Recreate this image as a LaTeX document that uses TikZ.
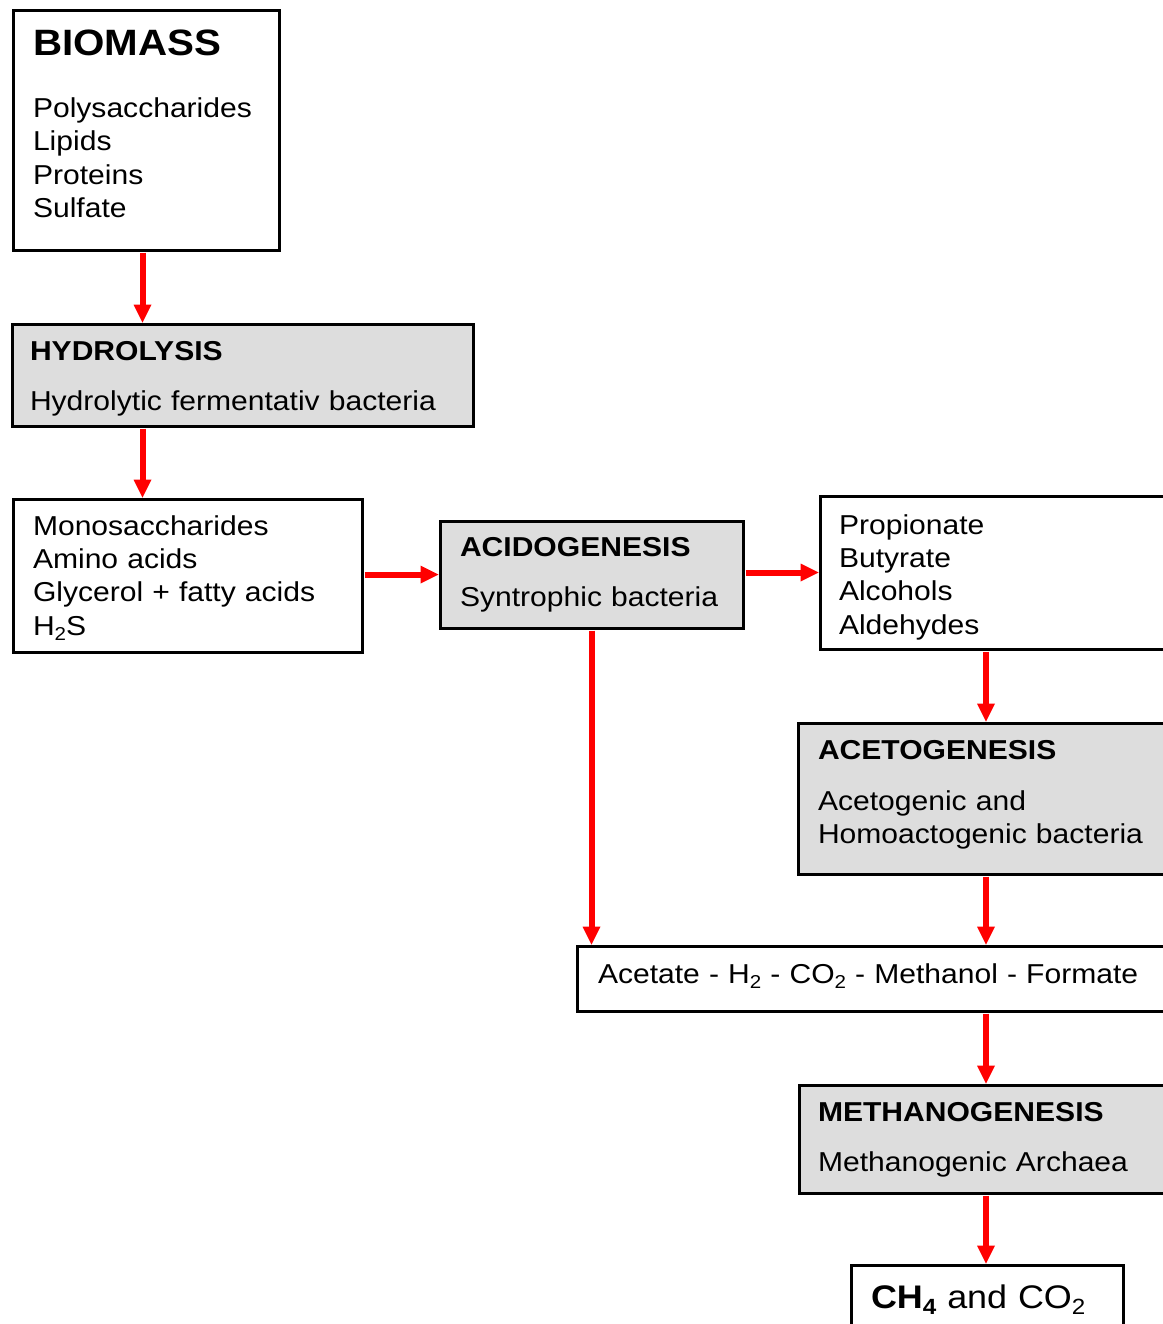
\documentclass[tikz,border=0pt]{standalone}
\usepackage{fontspec}
\setmainfont{Liberation Sans}[FakeStretch=1.1]
\usetikzlibrary{arrows.meta}
\definecolor{boxgray}{RGB}{221,221,221}
\newcommand\regf{\fontsize{20.5}{25}\selectfont}
\newcommand\subs[2][14]{\raisebox{-0.2em}{\fontsize{#1}{#1}\selectfont #2}}
\newcommand\tstr[1]{\rule{0pt}{#1}}
\newcommand\bstr[1]{\rule[-#1]{0pt}{#1}}
\begin{document}
\begin{tikzpicture}[x=0.75pt,y=-0.75pt,
  box/.style={draw=black, line width=2.25pt, anchor=north west, inner ysep=0pt, outer sep=0pt, align=left, font=\regf},
  graybox/.style={box, fill=boxgray},
  arr/.style={draw=red, line width=4.5pt, -{Triangle[length=13.5pt,width=13.5pt,line width=0pt]}, shorten >=1.1pt, shorten <=2pt}]
\useasboundingbox (0,0) rectangle (1163,1324);
\clip (0,0) rectangle (1163,1324);

\node[box, inner xsep=15pt, text width=169.5pt] (bio) at (13,10)
  {\tstr{33.75pt}{\fontsize{27.5}{30}\selectfont\bfseries BIOMASS}\\[21.75pt]Polysaccharides\\Lipids\\Proteins\\Sulfate\bstr{24.5pt}};
\node[graybox, inner xsep=13.5pt, text width=318.75pt] (hyd) at (12,324)
  {\tstr{27.5pt}\textbf{HYDROLYSIS}\\[12pt]Hydrolytic~fermentativ~bacteria\bstr{12pt}};
\node[box, inner xsep=15pt, text width=231.75pt] (mono) at (13,499)
  {\tstr{27pt}Monosaccharides\\Amino~acids\\Glycerol~+~fatty~acids\\H\subs{2}S\bstr{12.75pt}};
\node[graybox, inner xsep=15pt, text width=197.25pt] (acido) at (440,521)
  {\tstr{26.8pt}\textbf{ACIDOGENESIS}\\[12.5pt]Syntrophic~bacteria\bstr{16pt}};
\node[box, inner xsep=14.25pt, text width=256.5pt] (prop) at (820,496)
  {\tstr{28.5pt}Propionate\\Butyrate\\Alcohols\\Aldehydes\bstr{11.25pt}};
\node[graybox, inner xsep=15pt, text width=271.5pt] (aceto) at (798,723)
  {\tstr{27pt}\textbf{ACETOGENESIS}\\[13.25pt]Acetogenic~and\\Homoactogenic~bacteria\bstr{23pt}};
\node[box, inner xsep=15.75pt, text width=435.75pt] (acet) at (577,946)
  {\tstr{27.75pt}Acetate~-~H\subs{2}~-~CO\subs{2}~-~Methanol~-~Formate\bstr{21pt}};
\node[graybox, inner xsep=14.25pt, text width=272.25pt] (meth) at (799,1085)
  {\tstr{27pt}\textbf{METHANOGENESIS}\\[12.5pt]Methanogenic~Archaea\bstr{16.5pt}};
\node[box, inner xsep=15pt, text width=174pt, font=\fontsize{24.5}{28}\selectfont] (ch4) at (851,1265)
  {\tstr{32.25pt}\textbf{CH\subs[16.5]{4}}~and~CO\subs[16.5]{2}\bstr{24pt}};

\coordinate (cl) at (142.5,0);
\coordinate (cr) at (986,0);
\draw[arr] (bio.south -| cl) -- (hyd.north -| cl);
\draw[arr] (hyd.south -| cl) -- (mono.north -| cl);
\draw[arr] (mono.east |- acido.west) -- (acido.west);
\draw[arr] (acido.east |- prop.west) -- (prop.west);
\draw[arr] (acido.south) -- (acido.south |- acet.north);
\draw[arr] (prop.south -| cr) -- (aceto.north -| cr);
\draw[arr] (aceto.south -| cr) -- (acet.north -| cr);
\draw[arr] (acet.south -| cr) -- (meth.north -| cr);
\draw[arr] (meth.south -| cr) -- (ch4.north -| cr);
\end{tikzpicture}
\end{document}
